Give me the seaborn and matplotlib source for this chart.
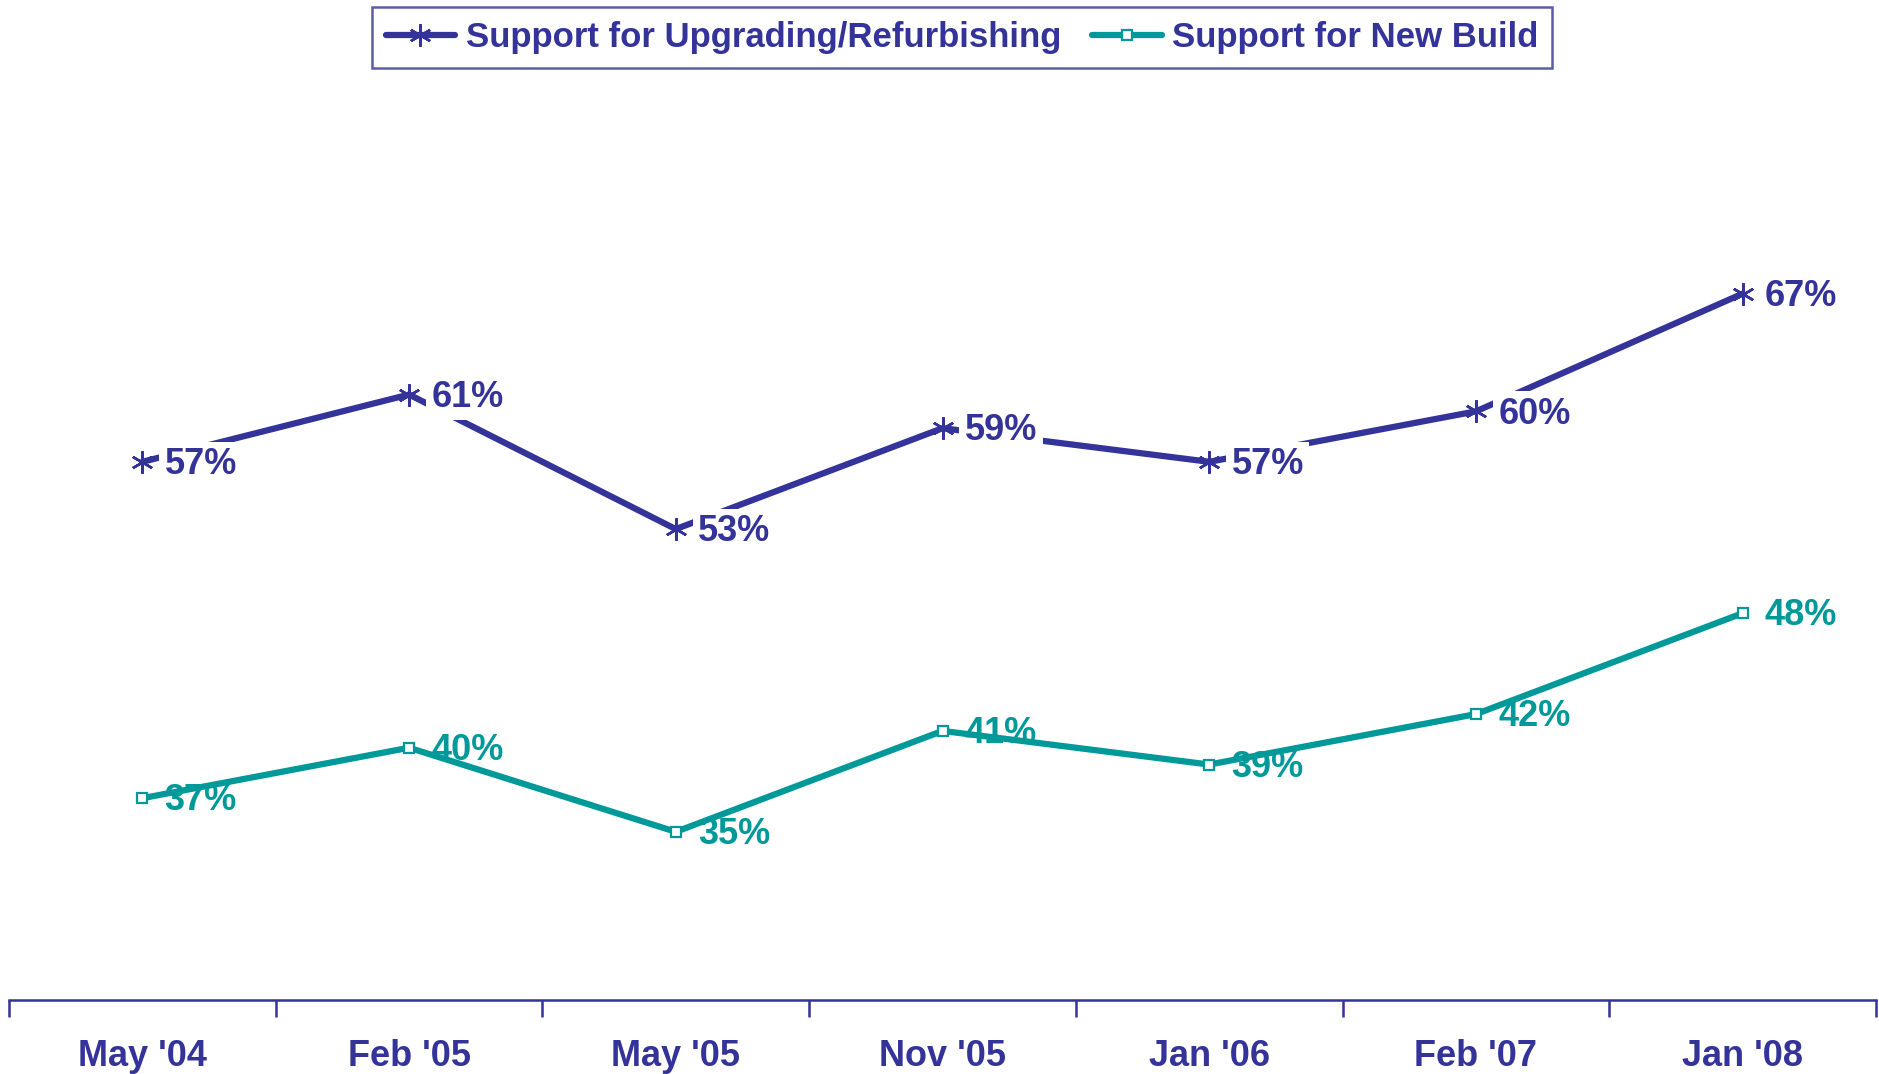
import numpy as np
import pandas as pd
import matplotlib
matplotlib.use("Agg")
import matplotlib.pyplot as plt
import seaborn as sns

sns.set_style("white")
plt.rcParams["font.family"] = ["Liberation Sans", "DejaVu Sans"]
plt.rcParams["font.weight"] = "bold"

# data
months = ["May '04", "Feb '05", "May '05", "Nov '05", "Jan '06", "Feb '07", "Jan '08"]
upgrade = [57, 61, 53, 59, 57, 60, 67]
new_build = [37, 40, 35, 41, 39, 42, 48]

purple = "#333399"
teal = "#009999"

df = pd.DataFrame({"pos": np.arange(len(months)), "upgrade": upgrade, "new_build": new_build})

fig = plt.figure(figsize=(18.79, 10.74), dpi=100)
ax = fig.add_axes([9 / 1879, 74 / 1074, 1867 / 1879, 925 / 1074])

sns.lineplot(data=df, x="pos", y="upgrade", ax=ax, color=purple, lw=4.5,
             marker=(6, 2, 0), markersize=16, markeredgewidth=1.8,
             markeredgecolor=purple, label="Support for Upgrading/Refurbishing")
sns.lineplot(data=df, x="pos", y="new_build", ax=ax, color=teal, lw=4.5,
             marker="s", markersize=7, markeredgewidth=1.6,
             markerfacecolor="white", markeredgecolor=teal,
             label="Support for New Build")

fs = 26
for i, v in enumerate(upgrade):
    ax.annotate(f"{v}%", (i, v), xytext=(16, -2), textcoords="offset points",
                ha="left", va="center", fontsize=fs, fontweight="bold", color=purple,
                bbox=dict(boxstyle="square,pad=0.15", fc="white", ec="none"), zorder=5)
for i, v in enumerate(new_build):
    ax.annotate(f"{v}%", (i, v), xytext=(16, -2), textcoords="offset points",
                ha="left", va="center", fontsize=fs, fontweight="bold", color=teal, zorder=5)

ax.set_xlim(-0.5, len(months) - 0.5)
ax.set_ylim(25, 80)
ax.set_xticks(range(len(months)))
ax.set_xticklabels(months, fontsize=fs, fontweight="bold", color=purple)
ax.set_xticks(np.arange(-0.5, len(months)), minor=True)
ax.tick_params(axis="x", which="major", bottom=True, length=0, pad=28)
ax.tick_params(axis="x", which="minor", bottom=True, length=12, width=1.8,
               color=purple, direction="out")
ax.set_yticks([])
ax.set_xlabel("")
ax.set_ylabel("")
for s in ["top", "left", "right"]:
    ax.spines[s].set_visible(False)
ax.spines["bottom"].set_color(purple)
ax.spines["bottom"].set_linewidth(1.8)

ax.get_legend().remove()
handles, labels = ax.get_legend_handles_labels()
leg = fig.legend(handles, labels, loc="center", bbox_to_anchor=(962 / 1879, 1 - 37.5 / 1074),
                 ncol=2, fontsize=25, frameon=True, fancybox=False, handlelength=2.0,
                 handletextpad=0.3, columnspacing=0.9, borderpad=0.4)
leg.get_frame().set_edgecolor(purple)
leg.get_frame().set_linewidth(1.8)
for t in leg.get_texts():
    t.set_color(purple)
    t.set_fontweight("bold")

fig.savefig("out.png", dpi=100)
